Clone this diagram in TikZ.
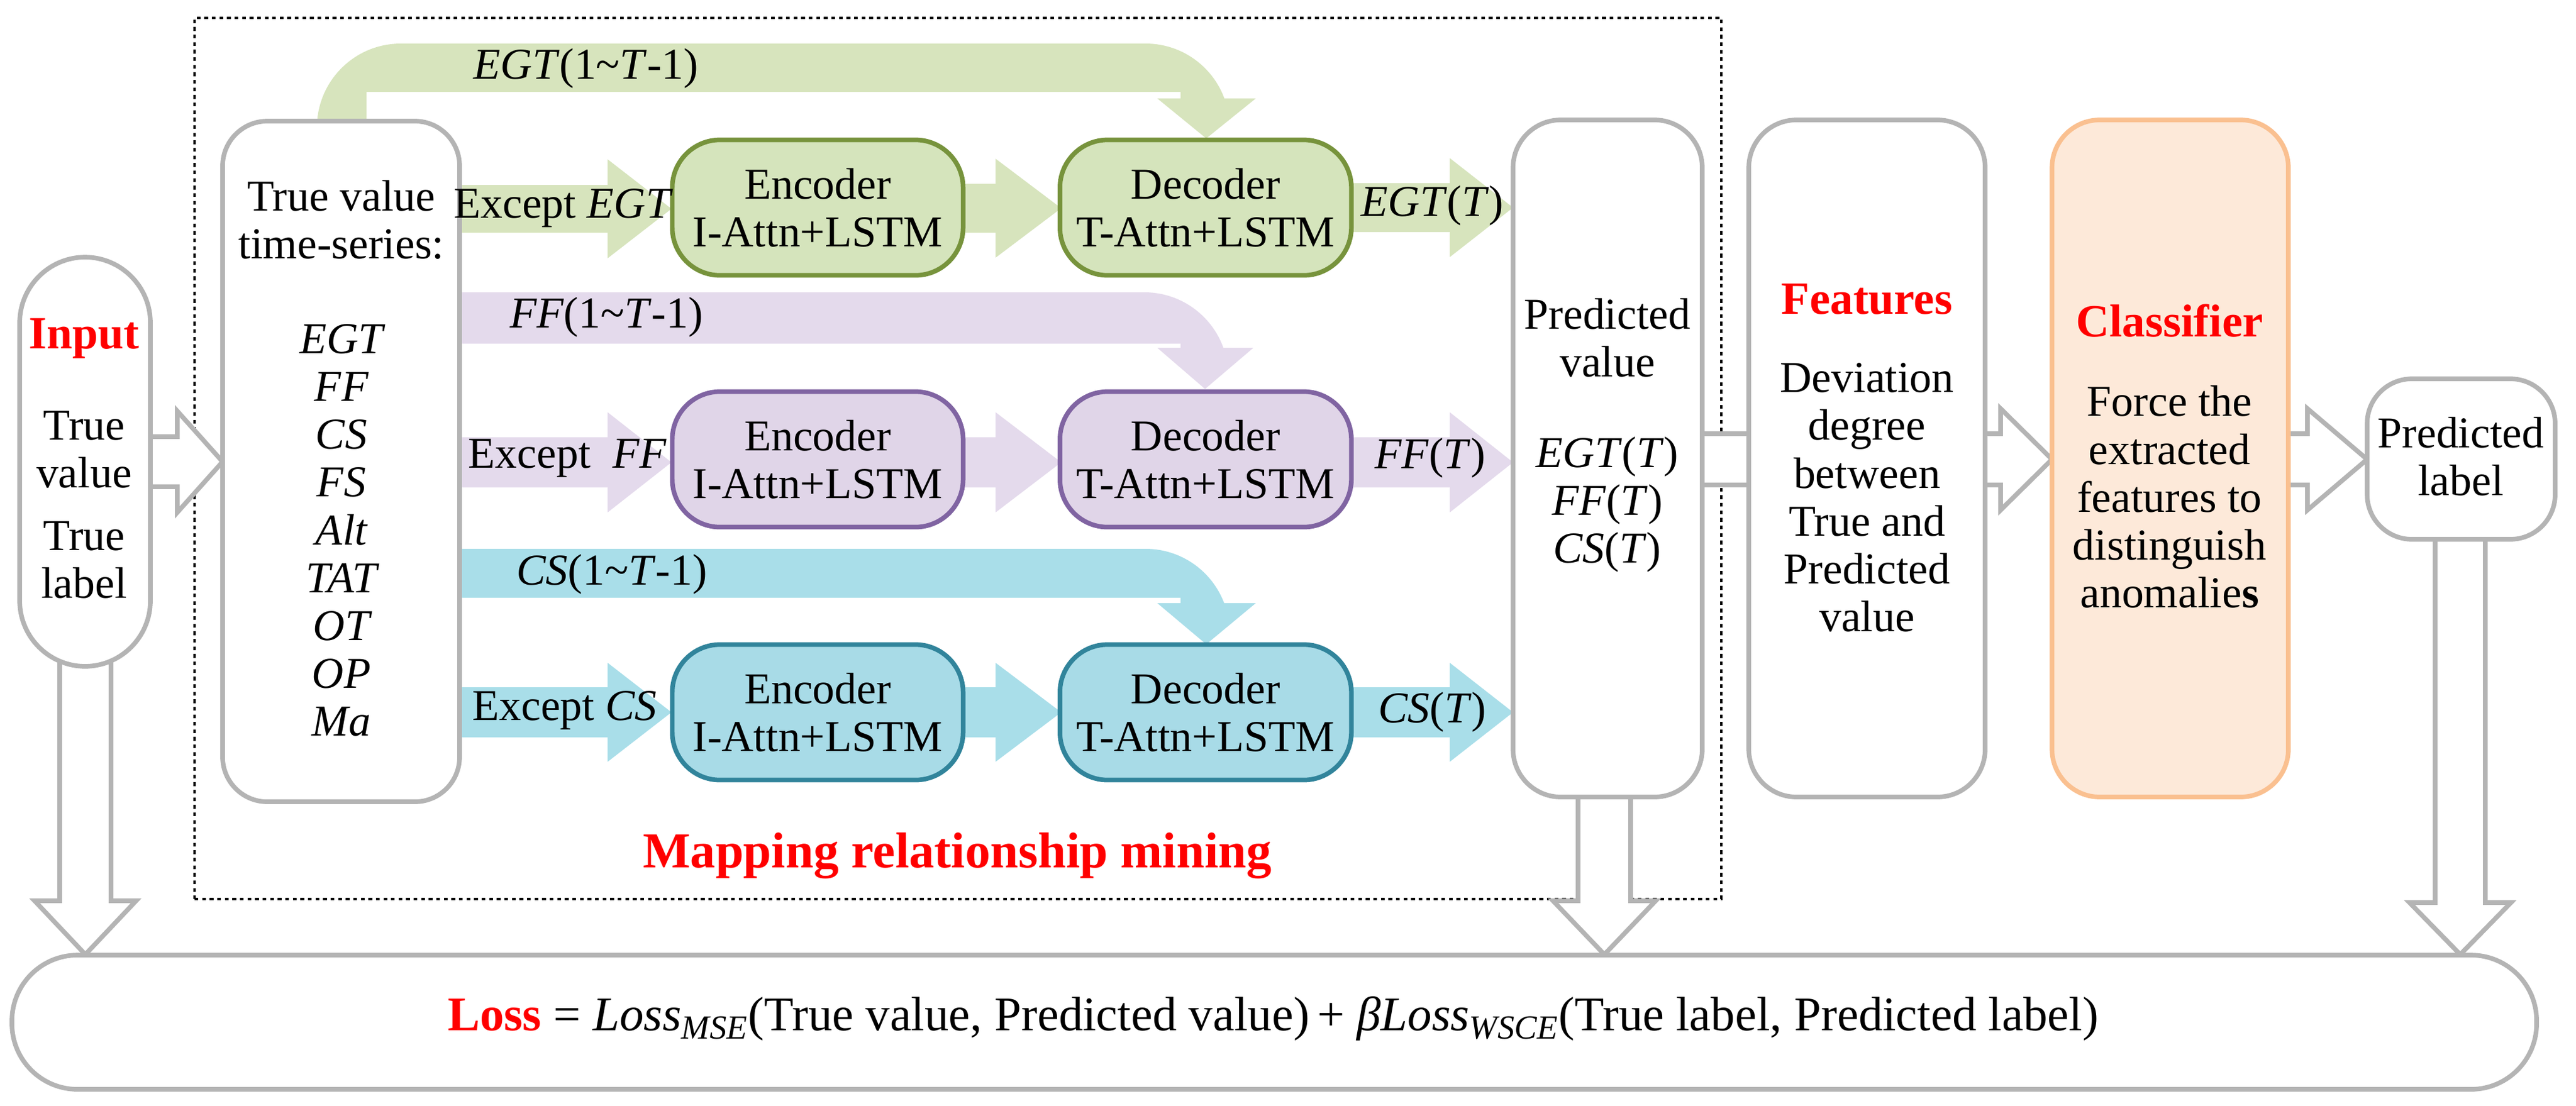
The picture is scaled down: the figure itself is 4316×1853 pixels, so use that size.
\documentclass[tikz,border=0pt]{standalone}
\usepackage{fontspec}
\setmainfont{Liberation Serif}
\usetikzlibrary{fit}
\definecolor{gband}{HTML}{D7E4BD}
\definecolor{pband}{HTML}{E4DAEC}
\definecolor{cband}{HTML}{A9DEE9}
\definecolor{gfill}{HTML}{D5E4BC}
\definecolor{pfill}{HTML}{E0D5E8}
\definecolor{cfill}{HTML}{A8DBE7}
\definecolor{gline}{HTML}{77933C}
\definecolor{pline}{HTML}{8064A2}
\definecolor{cline}{HTML}{31849B}
\definecolor{grayline}{HTML}{B4B4B4}
\definecolor{clsfill}{HTML}{FDE9D9}
\definecolor{clsline}{HTML}{FAC090}
\newcommand\RArr[7]{\path[#7] ({#1},{#4-#5}) -- ({#2},{#4-#5}) -- ({#2},{#4-#6}) -- ({#3},{#4}) -- ({#2},{#4+#6}) -- ({#2},{#4+#5}) -- ({#1},{#4+#5}) -- cycle;}
\newcommand\DArr[7]{\path[#7] ({#4-#5},{#1}) -- ({#4-#5},{#2}) -- ({#4-#6},{#2}) -- ({#4},{#3}) -- ({#4+#6},{#2}) -- ({#4+#5},{#2}) -- ({#4+#5},{#1});}
\tikzset{
  txt/.style={font=\fontsize{21}{22.8}\selectfont, align=center, inner sep=0pt},
  box/.style={draw=grayline, line width=2.2pt, fill=white, inner sep=0pt},
  hollow/.style={draw=grayline, line width=2.2pt, fill=white},
  red/.style={text=red, font=\fontsize{22}{24}\selectfont\bfseries}
}
\begin{document}
\begin{tikzpicture}[x=0.01cm,y=-0.01cm]
\useasboundingbox (0,0) rectangle (4316,1853);
% dotted frame
\node[draw, dash pattern=on 1.8pt off 1.8pt, line width=1.3pt, fit={(326,30) (2884,1507)}, inner sep=0pt] (frame) {};
% green band
\begin{scope}
\clip (531,210) -- (531,73) -- (2060,73) -- (2060,170) -- (1978,170) -- (1978,154) -- (614,154) -- (614,210) -- cycle;
\fill[gband, rounded corners=40] (531,73) rectangle (2060,400);
\end{scope}
\fill[gband] (1939,165) -- (2104,165) -- (2021,232) -- cycle;
% purple band
\begin{scope}
\clip (700,490) -- (2058,490) -- (2058,590) -- (1978,590) -- (1978,576) -- (700,576) -- cycle;
\fill[pband, rounded corners=40] (600,490) rectangle (2058,800);
\end{scope}
\fill[pband] (1939,583) -- (2100,583) -- (2019,652) -- cycle;
% cyan band
\begin{scope}
\clip (700,920) -- (2060,920) -- (2060,1018) -- (1978,1018) -- (1978,1002) -- (700,1002) -- cycle;
\fill[cband, rounded corners=40] (600,920) rectangle (2060,1200);
\end{scope}
\fill[cband] (1939,1011) -- (2104,1011) -- (2021,1080) -- cycle;
% horizontal colored arrows
\RArr{760}{1018}{1125}{350}{40}{83}{fill=gband}
\RArr{1600}{1668}{1778}{349}{41}{83}{fill=gband}
\RArr{2250}{2429}{2535}{348}{41}{83}{fill=gband}
\RArr{760}{1018}{1125}{775}{42}{84}{fill=pband}
\RArr{1600}{1668}{1778}{775}{42}{84}{fill=pband}
\RArr{2250}{2429}{2535}{775}{42}{84}{fill=pband}
\RArr{760}{1018}{1125}{1194}{42}{83}{fill=cband}
\RArr{1600}{1668}{1778}{1194}{42}{83}{fill=cband}
\RArr{2250}{2429}{2535}{1194}{42}{83}{fill=cband}
% hollow gray connectors
\RArr{240}{297}{373}{774}{42}{85}{hollow}
\path[hollow] (2845,727) rectangle (2938,813);
\RArr{3318}{3352}{3438}{770}{43}{85}{hollow}
\RArr{3826}{3866}{3966}{770}{43}{85}{hollow}
\DArr{1110}{1510}{1600}{143}{43}{85}{hollow}
\DArr{1330}{1510}{1600}{2688}{44}{86}{hollow}
\DArr{898}{1513}{1600}{4122}{42}{85}{hollow}
% boxes
\node[box, rounded corners=1.1cm, fit={(33,431) (252,1117)}] (input) {};
\node[box, rounded corners=0.75cm, fit={(373,203) (770,1344)}] (tv) {};
\node[box, rounded corners=0.8cm, fit={(2535,201) (2852,1336)}] (pv) {};
\node[box, rounded corners=0.8cm, fit={(2930,201) (3326,1336)}] (feat) {};
\node[box, draw=clsline, fill=clsfill, rounded corners=0.8cm, fit={(3438,201) (3834,1336)}] (cls) {};
\node[box, rounded corners=0.75cm, fit={(3966,635) (4281,904)}] (pl) {};
\node[box, rounded corners=1.1cm, fit={(20,1601) (4250,1826)}] (loss) {};
% encoder/decoder boxes
\foreach \n/\y/\c in {g/348/g, p/770/p, c/1194/c}{
  \node[draw=\c line, fill=\c fill, line width=2.2pt, rounded corners=0.8cm, minimum width=4.87cm, minimum height=2.27cm, inner sep=0pt] (enc\n) at (1370,\y) {};
  \node[draw=\c line, fill=\c fill, line width=2.2pt, rounded corners=0.8cm, minimum width=4.88cm, minimum height=2.27cm, inner sep=0pt] (dec\n) at (2020,\y) {};
  \node[txt, align=center] (enct\n) at (enc\n) {Encoder\\I-Attn+LSTM};
  \node[txt, align=center] (dect\n) at (dec\n) {Decoder\\T-Attn+LSTM};
}
% texts
\node[red] (tin) at (141,567) {Input};
\node[txt] (tinb) at (141,846) {True\\value\\[0.25cm]True\\label};
\node[txt] (ttv) at (572,368) {True value\\time-series:};
\node[txt, font=\fontsize{21}{22.8}\selectfont\itshape] (tlist) at (572,889) {EGT\\FF\\CS\\FS\\Alt\\TAT\\OT\\OP\\Ma};
\node[txt] (l1) at (982,115) {\textit{EGT}(1\textasciitilde\textit{T}-1)};
\node[txt] (l2) at (1016,532) {\textit{FF}(1\textasciitilde\textit{T}-1)};
\node[txt] (l3) at (1025,963) {\textit{CS}(1\textasciitilde\textit{T}-1)};
\node[txt] (e1) at (944,349) {Except \textit{EGT}};
\node[txt] (e2) at (951,768) {Except\ \ \textit{FF}};
\node[txt] (e3) at (946,1191) {Except \textit{CS}};
\node[txt] (o1) at (2400,345) {\textit{EGT}(\textit{T})};
\node[txt] (o2) at (2396,768) {\textit{FF}(\textit{T})};
\node[txt] (o3) at (2400,1194) {\textit{CS}(\textit{T})};
\node[txt] (tpv) at (2693,566) {Predicted\\value};
\node[txt] (tpv2) at (2693,846) {\textit{EGT}(\textit{T})\\\textit{FF}(\textit{T})\\\textit{CS}(\textit{T})};
\node[red] (tfeat) at (3128,502) {Features};
\node[txt] (tfeat2) at (3128,834) {Deviation\\degree\\between\\True and\\Predicted\\value};
\node[red] (tcls) at (3635,538) {Classifier};
\node[txt] (tcls2) at (3635,833) {Force the\\extracted\\features to\\distinguish\\anomalie\textbf{s}};
\node[txt] (tpl) at (4123,765) {Predicted\\label};
\node[red, font=\fontsize{24}{26}\selectfont\bfseries] (tmap) at (1604,1434) {Mapping relationship mining};
\node[txt, font=\fontsize{23}{25}\selectfont] (tloss) at (2133,1708) {\textcolor{red}{\textbf{Loss}} = \textit{Loss}\textsubscript{\textit{MSE}}(True value, Predicted value)\,+ \textit{β}\textit{Loss}\textsubscript{\textit{WSCE}}(True label, Predicted label)};
\end{tikzpicture}
\end{document}
